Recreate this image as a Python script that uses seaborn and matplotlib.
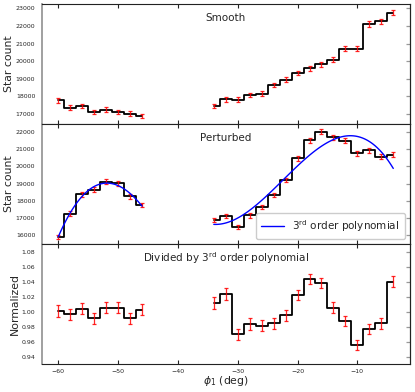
# stream star counts: smooth vs perturbed, with 3rd order polynomial fit
import matplotlib
matplotlib.use("Agg")
import matplotlib.pyplot as plt
import pandas as pd
import seaborn as sns

# bin centres (two separate stretches of the stream)
phi_left = [-60, -58, -56, -54, -52, -50, -48, -46]
phi_right = [-34, -32, -30, -28, -26, -24, -22, -20,
             -18, -16, -14, -12, -10, -8, -6, -4]

# smooth stream counts
smooth_left = [17780, 17375, 17470, 17110, 17260, 17130, 17030, 16890]
smooth_right = [17470, 17830, 17810, 18080, 18150, 18650, 18950, 19330,
                19610, 19820, 20090, 20710, 20710, 22110, 22260, 22760]
smooth_left_err = [133, 132, 132, 131, 131, 131, 131, 130]
smooth_right_err = [132, 134, 134, 134, 135, 137, 138, 139,
                    140, 141, 142, 144, 144, 149, 149, 151]

# perturbed stream counts
pert_left = [15900, 17250, 18370, 18650, 19120, 19010, 18260, 17740]
pert_right = [16880, 17110, 16450, 17150, 17630, 18330, 19210, 20470,
              21545, 22030, 21700, 21490, 20770, 20960, 20570, 20690]
pert_left_err = [126, 131, 136, 137, 138, 138, 135, 133]
pert_right_err = [130, 131, 128, 131, 133, 135, 139, 143,
                  147, 148, 147, 147, 144, 145, 143, 144]

# perturbed / polynomial
norm_left = [1.001, 0.997, 1.0045, 0.992, 1.006, 1.006, 0.9915, 1.003]
norm_right = [1.0125, 1.024, 0.970, 0.984, 0.9817, 0.985, 0.9955, 1.023,
              1.0446, 1.0388, 1.006, 0.988, 0.9555, 0.977, 0.985, 1.041]
norm_left_err = [0.0079, 0.0076, 0.0074, 0.0073, 0.0072, 0.0073, 0.0074, 0.0075]
norm_right_err = [0.0077, 0.0077, 0.0078, 0.0077, 0.0075, 0.0074, 0.0072, 0.0071,
                  0.0070, 0.0069, 0.0069, 0.0069, 0.0069, 0.0070, 0.0071, 0.0073]

sns.set_style("white")
plt.rcParams["font.family"] = ["DejaVu Sans"]
plt.rcParams["mathtext.fontset"] = "dejavusans"

fig, axes = plt.subplots(3, 1, figsize=(4.15, 3.92), dpi=100, sharex=True)
fig.subplots_adjust(left=0.1, right=0.988, top=0.99, bottom=0.071, hspace=0)

panels = [
    (smooth_left, smooth_right, smooth_left_err, smooth_right_err),
    (pert_left, pert_right, pert_left_err, pert_right_err),
    (norm_left, norm_right, norm_left_err, norm_right_err),
]

for ax, (yl, yr, el, er) in zip(axes, panels):
    for x, y, e in [(phi_left, yl, el), (phi_right, yr, er)]:
        df = pd.DataFrame({"phi": x, "val": y})
        sns.lineplot(data=df, x="phi", y="val", ax=ax, color="black",
                     lw=1.3, drawstyle="steps-mid", zorder=2)
        ax.errorbar(x, y, yerr=e, fmt="none", ecolor="red", elinewidth=0.9,
                    capsize=1.5, capthick=0.9, alpha=0.85, zorder=3)

# polynomial fit on the perturbed stream
for x, y in [(phi_left, pert_left), (phi_right, pert_right)]:
    sns.regplot(x=x, y=y, order=3, ci=None, scatter=False, truncate=True,
                ax=axes[1], line_kws={"color": "blue", "lw": 1.0, "zorder": 4})
axes[1].plot([], [], color="blue", lw=1.0, label="3$^{\\rm rd}$ order polynomial")

axes[0].set_ylim(16440, 23250)
axes[0].set_yticks(range(17000, 23001, 1000))
axes[1].set_ylim(15470, 22480)
axes[1].set_yticks(range(16000, 22001, 1000))
axes[2].set_ylim(0.9302, 1.0912)
axes[2].set_yticks([0.94, 0.96, 0.98, 1.00, 1.02, 1.04, 1.06, 1.08])
axes[2].set_xlim(-62.8, -1.2)
axes[2].set_xticks([-60, -50, -40, -30, -20, -10])

titles = ["Smooth", "Perturbed", "Divided by 3$^{\\rm rd}$ order polynomial"]
ylabels = ["Star count", "Star count", "Normalized"]
for ax, t, yl in zip(axes, titles, ylabels):
    ax.text(0.5, 0.885, t, transform=ax.transAxes, ha="center", va="center",
            fontsize=7.5)
    ax.set_ylabel(yl, fontsize=7.8, labelpad=1)
    ax.set_xlabel("")
    ax.tick_params(axis="x", direction="in", top=True, bottom=True,
                   length=3, width=0.8, labelsize=4.5, color="#222222")
    ax.tick_params(axis="y", direction="out", length=3, width=0.9,
                   labelsize=4.5, color="#999999", pad=1.5)
    for side in ["top", "right", "bottom"]:
        ax.spines[side].set_color("#222222")
        ax.spines[side].set_linewidth(0.8)
    ax.spines["left"].set_color("#999999")
    ax.spines["left"].set_linewidth(1.3)
    sec = ax.secondary_yaxis("right")
    sec.set_yticks(ax.get_yticks())
    sec.tick_params(direction="in", length=3, width=0.9, color="#999999",
                    labelright=False)
    sec.spines["right"].set_color("#222222")
    sec.spines["right"].set_linewidth(0.8)

axes[1].legend(loc="lower right", fontsize=7.5, handlelength=2.2,
               borderpad=0.5, framealpha=1, edgecolor="#cccccc")
axes[2].set_xlabel("$\\phi_1$ (deg)", fontsize=7.8, labelpad=0)

plt.savefig("out.png", dpi=100)
